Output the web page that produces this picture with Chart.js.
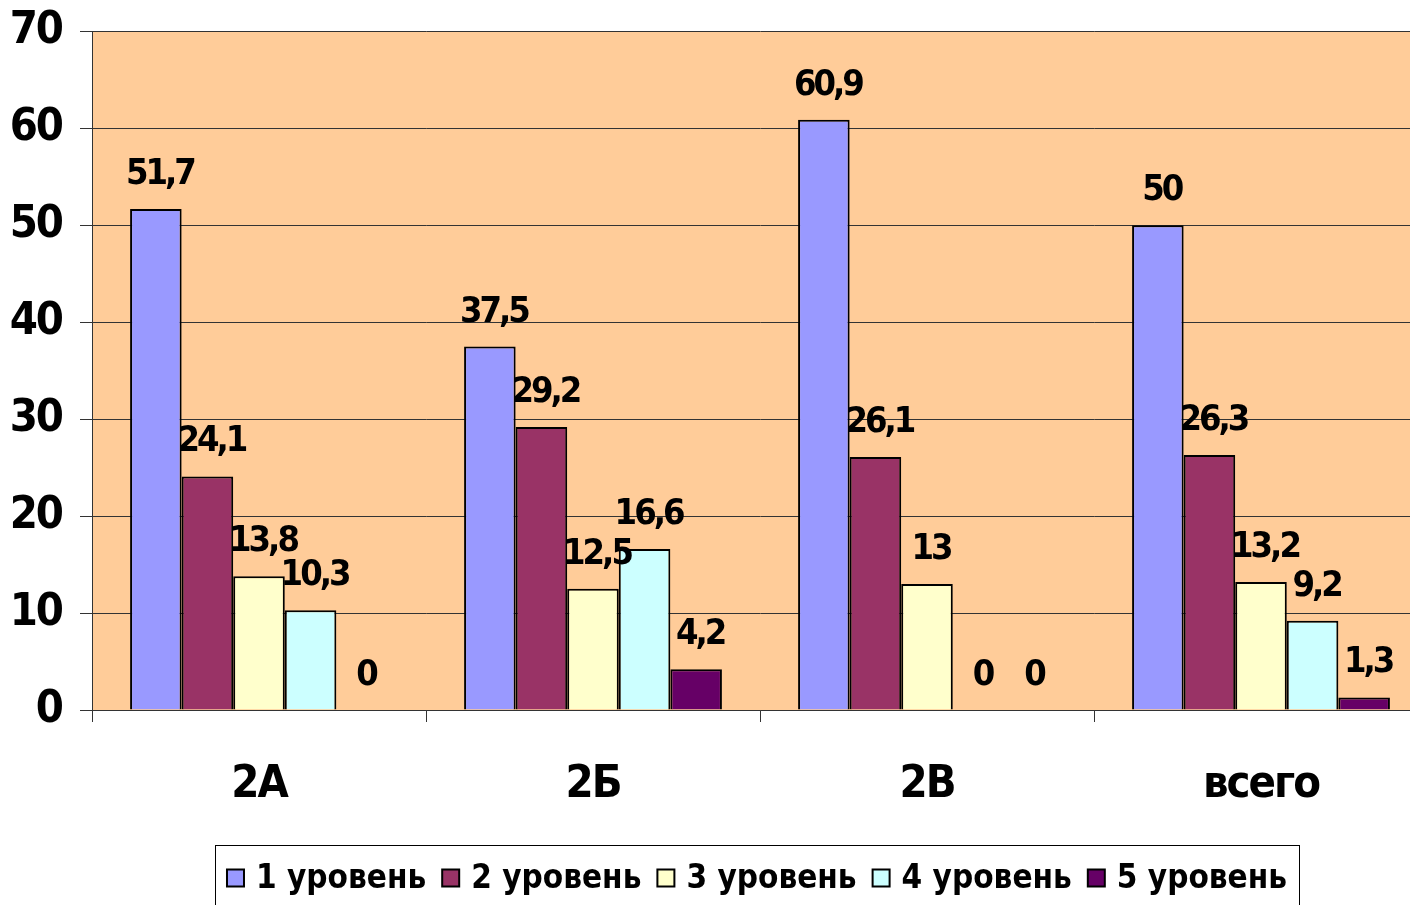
<!DOCTYPE html>
<html>
<head>
<meta charset="utf-8">
<script src="https://cdn.jsdelivr.net/npm/chart.js@4.4.1/dist/chart.umd.min.js"></script>
<style>
html, body { margin: 0; padding: 0; background: #fff; overflow: hidden; }
#wrap { width: 1410px; height: 905px; overflow: hidden; position: relative; }
canvas { display: block; }
</style>
</head>
<body>
<div id="wrap"><canvas id="chart" width="1428" height="905"></canvas></div>
<script>
const categories = ['2А', '2Б', '2В', 'всего'];
const level1 = [51.7, 37.5, 60.9, 50];
const level2 = [24.1, 29.2, 26.1, 26.3];
const level3 = [13.8, 12.5, 13, 13.2];
const level4 = [10.3, 16.6, 0, 9.2];
const level5 = [0, 4.2, 0, 1.3];
const seriesNames = ['1 уровень', '2 уровень', '3 уровень', '4 уровень', '5 уровень'];
const seriesColors = ['#9999FF', '#993366', '#FFFFCC', '#CCFFFF', '#660066'];
const yMin = 0, yMax = 70, yStep = 10;

const FAMILY = "'DejaVu Sans Condensed', 'DejaVu Sans', sans-serif";

// peach plot background + tighter text for the axis labels
const plotBg = {
  id: 'plotBg',
  beforeDraw(chart){
    const a = chart.chartArea, ctx = chart.ctx;
    ctx.letterSpacing = '-2px';
    ctx.save();
    ctx.fillStyle = '#FFCC99';
    ctx.fillRect(a.left, a.top, a.right - a.left, a.bottom - a.top);
    ctx.restore();
  }
};

// value labels above bars, decimal comma
const valueLabels = {
  id: 'valueLabels',
  afterDatasetsDraw(chart){
    const ctx = chart.ctx;
    ctx.save();
    ctx.letterSpacing = '-3px';
    ctx.font = 'bold 36px ' + FAMILY;
    ctx.fillStyle = '#000';
    ctx.textAlign = 'center';
    ctx.textBaseline = 'alphabetic';
    chart.data.datasets.forEach((ds, i) => {
      chart.getDatasetMeta(i).data.forEach((bar, j) => {
        const txt = String(ds.data[j]).replace('.', ',');
        ctx.fillText(txt, bar.x + 4, bar.y - 25);
      });
    });
    ctx.restore();
  }
};

// framed legend under the axis
const legendBox = {
  id: 'legendBox',
  afterDraw(chart){
    const ctx = chart.ctx;
    const box = 17, gapIn = 12, gapOut = 16, pad = 12;
    const cx = 757, cy = 878;
    ctx.save();
    ctx.letterSpacing = '0px';
    ctx.font = 'bold 33px ' + FAMILY;
    const widths = chart.data.datasets.map(ds => ctx.measureText(ds.label).width);
    let total = 0;
    widths.forEach((w, i) => { total += box + gapIn + w + (i < widths.length - 1 ? gapOut : 0); });
    let x = cx - total / 2;
    ctx.strokeStyle = '#000';
    ctx.lineWidth = 1;
    ctx.strokeRect(Math.round(x - pad) + 0.5, 845.5, Math.round(total + 2 * pad), 80);
    ctx.textBaseline = 'middle';
    ctx.textAlign = 'left';
    chart.data.datasets.forEach((ds, i) => {
      ctx.fillStyle = ds.backgroundColor;
      ctx.fillRect(x, cy - box / 2, box, box);
      ctx.lineWidth = 2;
      ctx.strokeRect(x, cy - box / 2, box, box);
      ctx.fillStyle = '#000';
      ctx.fillText(ds.label, x + box + gapIn, cy + 1);
      x += box + gapIn + widths[i] + gapOut;
    });
    ctx.restore();
  }
};

const seriesData = [level1, level2, level3, level4, level5];

new Chart(document.getElementById('chart').getContext('2d'), {
  type: 'bar',
  data: {
    labels: categories,
    datasets: seriesData.map((d, i) => ({
      label: seriesNames[i],
      data: d,
      backgroundColor: seriesColors[i],
      borderColor: '#000',
      borderWidth: 2,
      barPercentage: 1,
      categoryPercentage: 0.772
    }))
  },
  options: {
    responsive: false,
    animation: false,
    layout: { padding: { top: 29, left: 0, right: 0, bottom: 0 } },
    plugins: {
      legend: { display: false },
      tooltip: { enabled: false }
    },
    scales: {
      x: {
        offset: true,
        grid: { display: true, drawOnChartArea: false, drawTicks: true, tickLength: 12, color: '#333', offset: true },
        border: { display: true, color: '#333' },
        ticks: { color: '#000', padding: 36, font: { family: FAMILY, weight: 'bold', size: 45 } },
        afterFit(scale){ scale.height = 195; }
      },
      y: {
        min: yMin,
        max: yMax,
        ticks: { stepSize: yStep, color: '#000', padding: 18, font: { family: FAMILY, weight: 'bold', size: 45, lineHeight: 0.6 } },
        grid: { color: '#333', lineWidth: 1, tickLength: 12 },
        border: { display: true, color: '#333' },
        afterFit(scale){ scale.width = 92; }
      }
    }
  },
  plugins: [plotBg, valueLabels, legendBox]
});
</script>
</body>
</html>
